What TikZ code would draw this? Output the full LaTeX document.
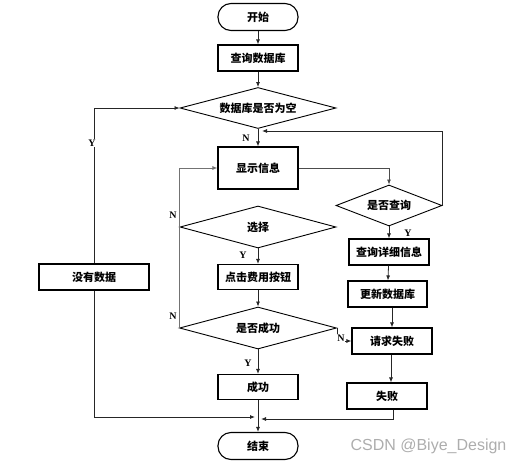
\documentclass[tikz,border=0pt]{standalone}
\usepackage{fontspec}
\setmainfont{Liberation Serif}
\newfontfamily\cjk{Noto Sans CJK SC}
\newfontfamily\wmfont{Liberation Sans}
\usetikzlibrary{shapes.geometric,arrows.meta,calc}
\begin{document}
\begin{tikzpicture}[x=1pt,y=-1pt,
  base/.style={draw=black,line width=1.1pt,inner sep=1pt,font=\cjk\bfseries\fontsize{11}{13}\selectfont},
  procbox/.style={base,rectangle,minimum width=80pt,minimum height=26pt},
  termbox/.style={base,rectangle,rounded corners=13pt,minimum width=80pt,minimum height=27pt},
  decbox/.style={base,diamond,aspect=4,line width=0.9pt},
  conn/.style={line width=0.8pt,draw=black!85,-{Latex[length=5pt,width=4pt]}},
  line/.style={line width=0.8pt,draw=black!85},
  lab/.style={font=\bfseries\fontsize{10}{11}\selectfont,fill=white,inner sep=0.5pt}]
\useasboundingbox (0,0) rectangle (517,466);
% nodes
\node[termbox] (start) at (258,17) {开始};
\node[procbox] (q1) at (258,58) {查询数据库};
\node[decbox,minimum width=156pt,minimum height=41pt] (d1) at (258,108) {数据库是否为空};
\node[procbox,minimum height=42pt] (show) at (258,168) {显示信息};
\node[decbox,minimum width=156pt,minimum height=42pt] (d2) at (258,227) {选择};
\node[procbox,minimum height=25pt] (click) at (258,277) {点击费用按钮};
\node[decbox,minimum width=157pt,minimum height=42pt] (d3) at (258,328) {是否成功};
\node[procbox,minimum height=25pt] (succ) at (258,387) {成功};
\node[termbox] (end) at (258,446) {结束};
\node[procbox,minimum width=110pt] (nodata) at (94,277) {没有数据};
\node[decbox,minimum width=106pt,minimum height=41pt] (dq) at (389,205.5) {是否查询};
\node[procbox] (detail) at (389,252) {查询详细信息};
\node[procbox,minimum width=79pt] (upd) at (387.5,294) {更新数据库};
\node[procbox] (reqf) at (392,341) {请求失败};
\node[procbox] (fail) at (387,396) {失败};
\node[font=\wmfont\fontsize{16}{18}\selectfont,text=black!32] (wm) at (428.5,446) {CSDN @Biye\_Design};
% helper coordinates
\coordinate (fb) at (262,131);
\coordinate (jL) at (255,417);
\coordinate (jR) at (261,419);
% connectors
\draw[conn] (start) -- (q1);
\draw[conn] (q1) -- (d1);
\draw[conn] (d1.south) -- (show.north);
\node[lab] (nA) at (246,138) {N};
\draw[conn,draw=black!70] (show.east) -| (dq.north);
\draw[conn] (dq.south) -- (detail.north);
\node[lab] (yA) at (408,233) {Y};
\draw[conn] (detail) -- (upd);
\draw[conn] (upd.south -| reqf.north) -- (reqf.north);
\draw[conn] (reqf.south -| 391,0) -- (391,0 |- fail.north);
\draw[conn] (fail.south -| 393,0) |- (jR);
\draw[conn] (dq.east) |- (fb);
\draw[conn] (nodata.north) |- (d1.west);
\node[lab] (yB) at (92,143) {Y};
\draw[conn] (nodata.south) |- (jL);
\draw[conn] (d2.south) -- (click.north);
\node[lab] (yC) at (243,255) {Y};
\draw[conn] (click) -- (d3);
\draw[conn] (d3.south) -- (succ.north);
\node[lab] (yD) at (248,363) {Y};
\draw[conn] (succ) -- (end);
\draw[conn,draw=black!55] (d3.west) |- (show.west);
\node[lab,fill=none] (nB) at (173,215) {N};
\node[lab,fill=none] (nC) at (173,316) {N};
\draw[conn] (d3.east) |- (reqf.west);
\node[lab] (nD) at (341,338) {N};
\end{tikzpicture}
\end{document}
